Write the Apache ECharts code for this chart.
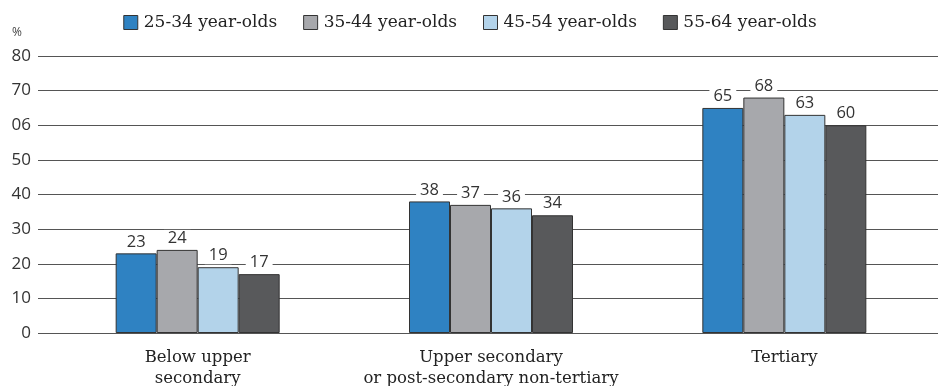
<!DOCTYPE html>
<html><head><meta charset="utf-8">
<script src="https://cdn.jsdelivr.net/npm/echarts@6/dist/echarts.min.js"></script>
<style>html,body{margin:0;padding:0;background:#fff}#c{width:940px;height:386px}</style>
</head><body><div id="c"></div>
<script>
const categories = ['Below upper\nsecondary', 'Upper secondary\nor post-secondary non-tertiary', 'Tertiary'];
const seriesNames = ['25-34 year-olds', '35-44 year-olds', '45-54 year-olds', '55-64 year-olds'];
const v2534 = [23, 38, 65];
const v3544 = [24, 37, 68];
const v4554 = [19, 36, 63];
const v5564 = [17, 34, 60];
const yTickLabels = ['0', '10', '20', '30', '40', '50', '06', '70', '80'];

const colors = ['#2f82c2', '#a7a8ac', '#b3d3ea', '#58595b'];
const values = [v2534, v3544, v4554, v5564];
const serif = 'DejaVu Serif';
const sans = 'Open Sans';

const chart = echarts.init(document.getElementById('c'), null, {renderer: 'canvas'});
chart.setOption({
  animation: false,
  color: colors,
  legend: {
    top: 9, left: 'center', itemWidth: 14, itemHeight: 14, itemGap: 26,
    icon: 'rect',
    itemStyle: {borderColor: '#333', borderWidth: 1},
    textStyle: {fontFamily: serif, fontSize: 17, color: '#222', padding: [0, 0, 0, 1]},
    data: seriesNames
  },
  grid: [
    {left: 51, width: 880, top: 56, bottom: 53, outerBoundsMode: 'none', containLabel: false},
    {left: 38, right: 2, top: 56, bottom: 53, outerBoundsMode: 'none', containLabel: false}
  ],
  xAxis: [
    {type: 'category', gridIndex: 0, data: categories,
     axisLine: {show: false}, axisTick: {show: false},
     axisLabel: {interval: 0, hideOverlap: false, fontFamily: serif, fontSize: 16.5, color: '#222', lineHeight: 21, margin: 14}},
    {type: 'category', gridIndex: 1, data: categories, show: false}
  ],
  yAxis: [
    {type: 'value', gridIndex: 0, min: 0, max: 80, interval: 10, show: false},
    {type: 'value', gridIndex: 1, min: 0, max: 80, interval: 10,
     name: '%', nameLocation: 'end', nameGap: 17,
     nameTextStyle: {fontFamily: sans, fontSize: 12, color: '#444', align: 'right', padding: [0, 16, 0, 0]},
     axisLine: {show: false}, axisTick: {show: false},
     axisLabel: {fontFamily: sans, fontSize: 17, color: '#333', margin: 7,
       formatter: (v) => yTickLabels[Math.round(v / 10)]},
     splitLine: {lineStyle: {color: '#555', width: 1}}}
  ],
  series: seriesNames.map((n, i) => ({
    name: n, type: 'bar', xAxisIndex: 0, yAxisIndex: 0,
    data: values[i], barWidth: 41, barGap: '0%',
    itemStyle: {color: colors[i], borderColor: '#333', borderWidth: 1},
    label: {show: true, position: 'top', distance: 3, fontFamily: sans, fontSize: 16.5,
      color: '#333', backgroundColor: '#fff', padding: [0, 4, 0, 4]}
  }))
});
</script></body></html>
